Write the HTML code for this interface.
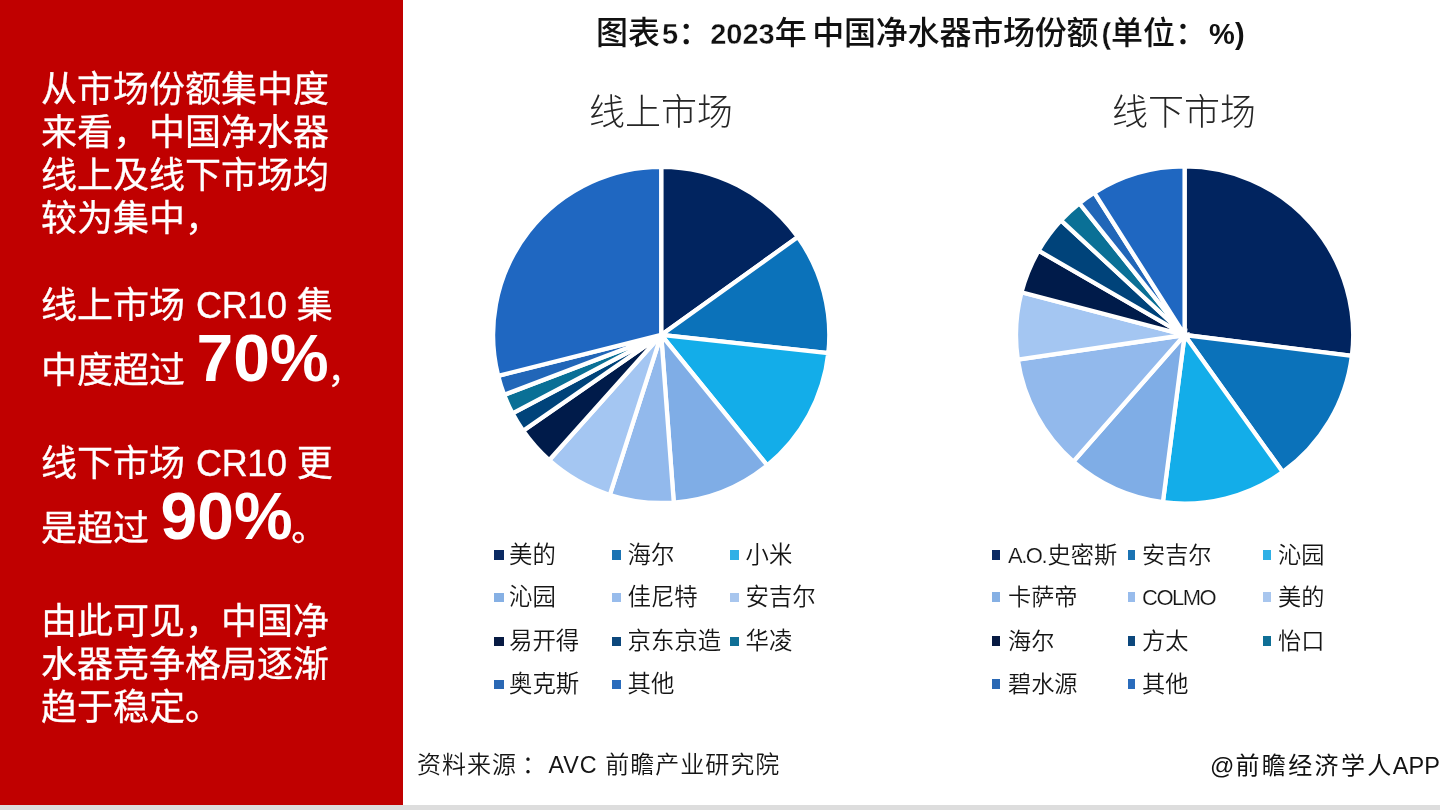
<!DOCTYPE html>
<html lang="zh-CN"><head><meta charset="utf-8"><title>2023年中国净水器市场份额</title>
<style>
html,body{margin:0;padding:0;}
body{width:1440px;height:810px;position:relative;overflow:hidden;background:#fff;font-family:"Liberation Sans","Noto Sans CJK SC",sans-serif;}
.red{position:absolute;left:0;top:0;width:403px;height:805px;background:#c00000;}
.bar{position:absolute;left:0;top:805px;width:1440px;height:5px;background:#dddddd;}
.t{position:absolute;left:41px;color:#fff;font-size:36px;line-height:43px;white-space:nowrap;font-weight:400;-webkit-text-stroke:0.3px #fff;}
.t .la{font-size:36px;letter-spacing:-0.35px;margin-left:1px;}
.t b{font-size:66px;font-weight:700;line-height:0;position:relative;top:-1.2px;left:1.5px;-webkit-text-stroke:0;}
.title{position:absolute;left:596px;top:14px;font-size:32px;font-weight:500;color:#111;white-space:nowrap;line-height:38px;}
.title span{font-size:29px;font-weight:700;-webkit-text-stroke:0.35px #fff;}
.title i{font-style:normal;display:inline-block;}
.sub{position:absolute;font-size:36px;font-weight:300;color:#262626;white-space:nowrap;line-height:44px;}
.sq{position:absolute;display:block;}
.lg{position:absolute;font-size:23.4px;line-height:34px;color:#151515;white-space:nowrap;font-weight:350;}
.lg.r{font-size:23.2px;}
.lg .la{font-size:22px;letter-spacing:-1.5px;margin-right:1.5px;-webkit-text-stroke:0.2px #fff;}
.src{position:absolute;left:417px;top:748px;font-size:24px;line-height:34px;color:#151515;white-space:nowrap;font-weight:350;letter-spacing:1px;}
.wm{position:absolute;left:1210px;top:748.5px;font-size:24px;line-height:34px;color:#111;white-space:nowrap;font-weight:400;}
.wm i{font-style:normal;letter-spacing:2.4px;margin-left:1px;}
.wm span{font-size:23.5px;margin-left:-1px;}
svg{position:absolute;left:0;top:0;}
</style></head><body>
<div class="red"></div>
<div class="bar"></div>
<div class="t" style="top:67.5px">从市场份额集中度</div>
<div class="t" style="top:110.5px">来看，中国净水器</div>
<div class="t" style="top:153.5px">线上及线下市场均</div>
<div class="t" style="top:196.5px">较为集中，</div>
<div class="t" style="top:283.5px">线上市场 <span class="la">CR10</span> 集</div>
<div class="t" style="top:348.5px">中度超过 <b>70%</b>，</div>
<div class="t" style="top:441.5px">线下市场 <span class="la">CR10</span> 更</div>
<div class="t" style="top:506.5px">是超过 <b>90%</b>。</div>
<div class="t" style="top:599.5px">由此可见，中国净</div>
<div class="t" style="top:642.5px">水器竞争格局逐渐</div>
<div class="t" style="top:685.5px">趋于稳定。</div>
<div class="title">图表<span style="margin-left:2px">5</span>：<span>2023</span>年<i style="margin-left:5.5px;letter-spacing:-0.2px">中国净水器市场份额</i><i style="margin-left:3px"><span>(</span>单位：</i><span style="margin-left:2px;-webkit-text-stroke:0">%)</span></div>
<div class="sub" style="left:589px;top:91px">线上市场</div>
<div class="sub" style="left:1112px;top:91px">线下市场</div>
<svg width="1440" height="810" viewBox="0 0 1440 810">
<g stroke="#fff" stroke-width="4.3" stroke-linejoin="miter">
<path d="M661.20 334.90L661.20 166.80A168.1 168.1 0 0 1 797.88 237.05Z" fill="#01245f"/>
<path d="M661.20 334.90L797.88 237.05A168.1 168.1 0 0 1 828.32 353.05Z" fill="#0b72ba"/>
<path d="M661.20 334.90L828.32 353.05A168.1 168.1 0 0 1 767.22 465.35Z" fill="#13ade9"/>
<path d="M661.20 334.90L767.22 465.35A168.1 168.1 0 0 1 673.80 502.53Z" fill="#7fade6"/>
<path d="M661.20 334.90L673.80 502.53A168.1 168.1 0 0 1 609.81 494.95Z" fill="#92b9ec"/>
<path d="M661.20 334.90L609.81 494.95A168.1 168.1 0 0 1 549.16 460.21Z" fill="#a4c6f2"/>
<path d="M661.20 334.90L549.16 460.21A168.1 168.1 0 0 1 523.16 430.84Z" fill="#001b4a"/>
<path d="M661.20 334.90L523.16 430.84A168.1 168.1 0 0 1 512.50 413.30Z" fill="#00437a"/>
<path d="M661.20 334.90L512.50 413.30A168.1 168.1 0 0 1 504.16 394.87Z" fill="#0a7096"/>
<path d="M661.20 334.90L504.16 394.87A168.1 168.1 0 0 1 498.16 375.85Z" fill="#2166b8"/>
<path d="M661.20 334.90L498.16 375.85A168.1 168.1 0 0 1 661.20 166.80Z" fill="#1f67c1"/>
<path d="M1184.60 335.00L1184.60 166.40A168.6 168.6 0 0 1 1351.91 355.84Z" fill="#01245f"/>
<path d="M1184.60 335.00L1351.91 355.84A168.6 168.6 0 0 1 1282.75 472.09Z" fill="#0b72ba"/>
<path d="M1184.60 335.00L1282.75 472.09A168.6 168.6 0 0 1 1162.89 502.20Z" fill="#13ade9"/>
<path d="M1184.60 335.00L1162.89 502.20A168.6 168.6 0 0 1 1073.32 461.66Z" fill="#7fade6"/>
<path d="M1184.60 335.00L1073.32 461.66A168.6 168.6 0 0 1 1017.81 359.63Z" fill="#92b9ec"/>
<path d="M1184.60 335.00L1017.81 359.63A168.6 168.6 0 0 1 1021.52 292.22Z" fill="#a4c6f2"/>
<path d="M1184.60 335.00L1021.52 292.22A168.6 168.6 0 0 1 1038.59 250.70Z" fill="#001b4a"/>
<path d="M1184.60 335.00L1038.59 250.70A168.6 168.6 0 0 1 1060.99 220.34Z" fill="#00437a"/>
<path d="M1184.60 335.00L1060.99 220.34A168.6 168.6 0 0 1 1079.41 203.24Z" fill="#0a7096"/>
<path d="M1184.60 335.00L1079.41 203.24A168.6 168.6 0 0 1 1094.26 192.65Z" fill="#2166b8"/>
<path d="M1184.60 335.00L1094.26 192.65A168.6 168.6 0 0 1 1184.60 166.40Z" fill="#1f67c1"/>
</g>
</svg>
<i class="sq" style="left:494.3px;top:550.3px;width:9.3px;height:9.4px;background:#0b2a63"></i>
<span class="lg" style="left:509px;top:538.0px">美的</span>
<i class="sq" style="left:612px;top:550.3px;width:9.3px;height:9.4px;background:#1b73b3"></i>
<span class="lg" style="left:627.5px;top:538.0px">海尔</span>
<i class="sq" style="left:729.8px;top:550.3px;width:9.3px;height:9.4px;background:#2fb0e6"></i>
<span class="lg" style="left:745.5px;top:538.0px">小米</span>
<i class="sq" style="left:494.3px;top:592.5px;width:9.3px;height:9.4px;background:#86b0e4"></i>
<span class="lg" style="left:509px;top:580.2px">沁园</span>
<i class="sq" style="left:612px;top:592.5px;width:9.3px;height:9.4px;background:#98bcec"></i>
<span class="lg" style="left:627.5px;top:580.2px">佳尼特</span>
<i class="sq" style="left:729.8px;top:592.5px;width:9.3px;height:9.4px;background:#a8c6ee"></i>
<span class="lg" style="left:745.5px;top:580.2px">安吉尔</span>
<i class="sq" style="left:494.3px;top:636.7px;width:9.3px;height:9.4px;background:#071a42"></i>
<span class="lg" style="left:509px;top:624.4px">易开得</span>
<i class="sq" style="left:612px;top:636.7px;width:9.3px;height:9.4px;background:#0c477c"></i>
<span class="lg" style="left:627.5px;top:624.4px">京东京造</span>
<i class="sq" style="left:729.8px;top:636.7px;width:9.3px;height:9.4px;background:#0f6f96"></i>
<span class="lg" style="left:745.5px;top:624.4px">华凌</span>
<i class="sq" style="left:494.3px;top:679.6px;width:9.3px;height:9.4px;background:#2a68b4"></i>
<span class="lg" style="left:509px;top:667.3px">奥克斯</span>
<i class="sq" style="left:612px;top:679.6px;width:9.3px;height:9.4px;background:#2a6cbc"></i>
<span class="lg" style="left:627.5px;top:667.3px">其他</span>
<i class="sq" style="left:992.2px;top:550.0px;width:7.5px;height:10px;background:#0b2a63"></i>
<span class="lg r" style="left:1008px;top:538.0px"><span class="la">A.O.</span>史密斯</span>
<i class="sq" style="left:1127.8px;top:550.0px;width:7.5px;height:10px;background:#1b73b3"></i>
<span class="lg r" style="left:1142px;top:538.0px">安吉尔</span>
<i class="sq" style="left:1263px;top:550.0px;width:7.5px;height:10px;background:#2fb0e6"></i>
<span class="lg r" style="left:1278px;top:538.0px">沁园</span>
<i class="sq" style="left:992.2px;top:592.2px;width:7.5px;height:10px;background:#86b0e4"></i>
<span class="lg r" style="left:1008px;top:580.2px">卡萨帝</span>
<i class="sq" style="left:1127.8px;top:592.2px;width:7.5px;height:10px;background:#98bcec"></i>
<span class="lg r" style="left:1142px;top:580.2px"><span class="la">COLMO</span></span>
<i class="sq" style="left:1263px;top:592.2px;width:7.5px;height:10px;background:#a8c6ee"></i>
<span class="lg r" style="left:1278px;top:580.2px">美的</span>
<i class="sq" style="left:992.2px;top:636.4px;width:7.5px;height:10px;background:#071a42"></i>
<span class="lg r" style="left:1008px;top:624.4px">海尔</span>
<i class="sq" style="left:1127.8px;top:636.4px;width:7.5px;height:10px;background:#0c477c"></i>
<span class="lg r" style="left:1142px;top:624.4px">方太</span>
<i class="sq" style="left:1263px;top:636.4px;width:7.5px;height:10px;background:#0f6f96"></i>
<span class="lg r" style="left:1278px;top:624.4px">怡口</span>
<i class="sq" style="left:992.2px;top:679.3px;width:7.5px;height:10px;background:#2a68b4"></i>
<span class="lg r" style="left:1008px;top:667.3px">碧水源</span>
<i class="sq" style="left:1127.8px;top:679.3px;width:7.5px;height:10px;background:#2a6cbc"></i>
<span class="lg r" style="left:1142px;top:667.3px">其他</span>
<div class="src">资料来源<span style="margin-left:5px">：</span><span style="margin-left:1.5px;font-size:23.3px">AVC</span> 前瞻产业研究院</div>
<div class="wm">@<i>前瞻经济学人</i><span>APP</span></div>
</body></html>
